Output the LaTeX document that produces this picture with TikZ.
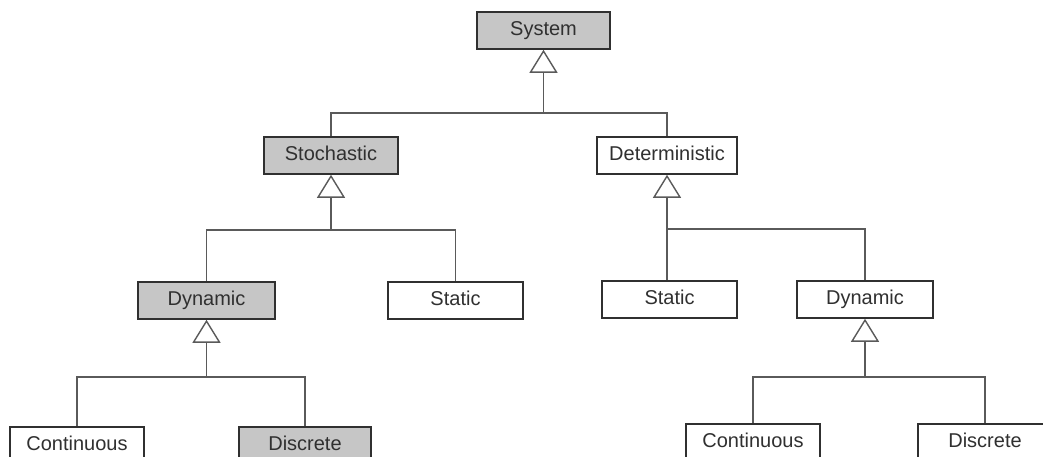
\documentclass[tikz,border=0pt]{standalone}
\usepackage{fontspec}
\setmainfont{Liberation Sans}
\usetikzlibrary{arrows.meta}
\definecolor{boxfill}{HTML}{C6C6C6}
\definecolor{ink}{HTML}{303030}
\definecolor{wire}{HTML}{5A5A5A}
\tikzset{
  cls/.style={draw=ink, line width=1.6pt, fill=white, minimum height=37pt, inner sep=0pt,
     text height=14.5pt, text depth=4pt,
     font=\fontsize{20}{22}\selectfont, text=ink},
  gcls/.style={cls, fill=boxfill},
  wireline/.style={draw=wire, line width=1.1pt},
  gen/.style={wireline, -{Triangle[open, length=23pt, width=28pt, line width=1.4pt, fill=white]}},
}
\begin{document}
\begin{tikzpicture}[x=1pt,y=-1pt]
\useasboundingbox (0,0) rectangle (1043,457);
\clip (0,0) rectangle (1043,457);
\fill[white] (0,0) rectangle (1043,457);
% nodes
\node[gcls, minimum width=133pt] (sys) at (543.5,30.5) {System};
\node[gcls, minimum width=134pt] (sto) at (331,155.5) {Stochastic};
\node[cls, minimum width=140pt] (det) at (667,155.5) {Deterministic};
\node[gcls, minimum width=137pt] (dynL) at (206.5,300.5) {Dynamic};
\node[cls, minimum width=135pt] (statL) at (455.5,300.5) {Static};
\node[cls, minimum width=135pt] (statR) at (669.5,299.5) {Static};
\node[cls, minimum width=136pt] (dynR) at (865,299.5) {Dynamic};
\node[cls, minimum width=134pt] (contL) at (77,445.5) {Continuous};
\node[gcls, minimum width=132pt] (discL) at (305,445.5) {Discrete};
\node[cls, minimum width=134pt] (contR) at (753,442.5) {Continuous};
\node[cls, minimum width=134pt] (discR) at (985,442.5) {Discrete};
% junctions
\coordinate (j0) at (543.5,113);
\coordinate (j1) at (331,230);
\coordinate (j2) at (667,229);
\coordinate (j3) at (206.5,377);
\coordinate (j4) at (865,377);
% connectors
\draw[gen] (j0) -- (sys.south);
\draw[wireline] (sto.north) |- (j0) -| (det.north);
\draw[gen] (j1) -- (sto.south);
\draw[wireline] (dynL.north) |- (j1) -| (statL.north);
\draw[gen] (statR.north -| det.south) -- (det.south);
\draw[wireline] (j2) -| (dynR.north);
\draw[gen] (j3) -- (dynL.south);
\draw[wireline] (contL.north) |- (j3) -| (discL.north);
\draw[gen] (j4) -- (dynR.south);
\draw[wireline] (contR.north) |- (j4) -| (discR.north);
\end{tikzpicture}
\end{document}
